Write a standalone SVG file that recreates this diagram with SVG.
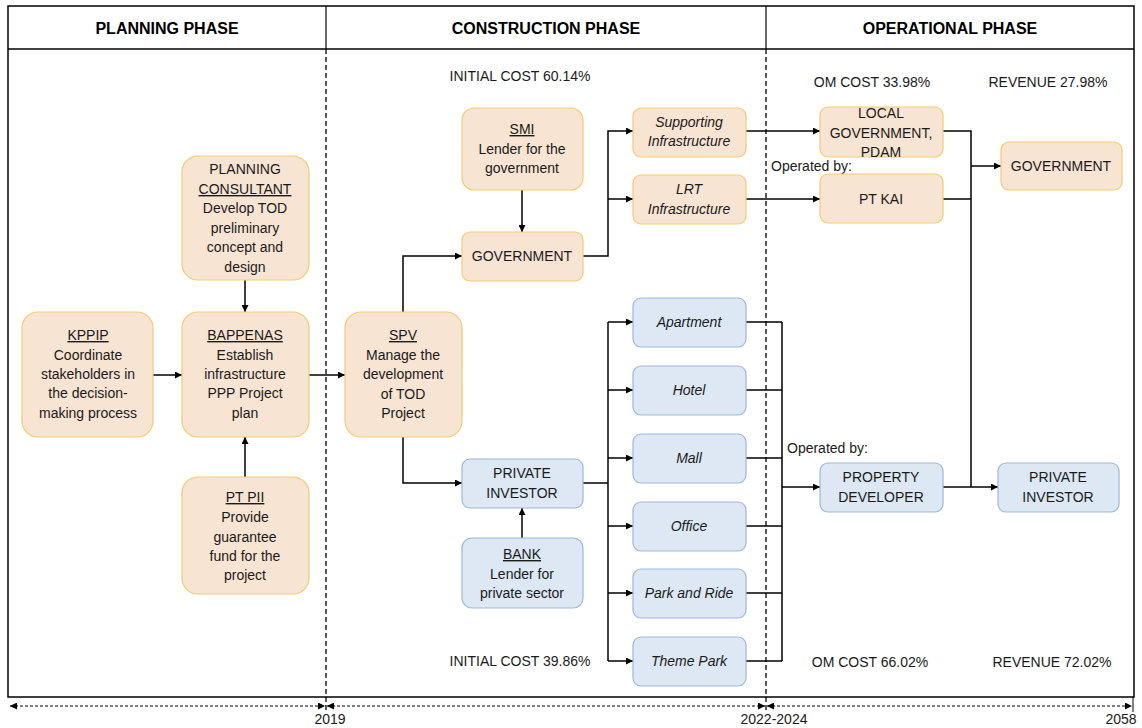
<svg xmlns="http://www.w3.org/2000/svg" width="1142" height="728" viewBox="0 0 1142 728">
<defs>
<marker id="ah" viewBox="0 0 10 10" refX="10" refY="5" markerWidth="7" markerHeight="7" markerUnits="userSpaceOnUse" orient="auto"><path d="M0,0 L10,5 L0,10 z" fill="#000"/></marker>
<marker id="ta" viewBox="0 0 10 10" refX="10" refY="5" markerWidth="7" markerHeight="7" markerUnits="userSpaceOnUse" orient="auto-start-reverse"><path d="M0,0 L10,5 L0,10 z" fill="#000"/></marker>
<style>
text{font-family:"Liberation Sans",Arial,sans-serif;font-size:14px;fill:#1a1a1a;text-anchor:middle}
.hd{font-weight:bold;font-size:16px;fill:#000}
.it{font-style:italic}
.u{text-decoration:underline}
.lb{text-anchor:start}
.or{fill:#F8E4D3;stroke:#F3CB72;stroke-width:1.2}
.bl{fill:#DDE8F4;stroke:#9DB8D8;stroke-width:1.2}
.ln{fill:none;stroke:#000;stroke-width:1.5}
.dv{fill:none;stroke:#000;stroke-width:1.3;stroke-dasharray:5,3}
.tl{fill:none;stroke:#000;stroke-width:1;stroke-dasharray:3,2}
</style>
</defs>
<rect x="0" y="0" width="1142" height="728" fill="#fff"/>
<g id="frame">
<rect x="8" y="6" width="1126" height="691" fill="none" stroke="#000" stroke-width="1.5"/>
<line x1="8" y1="49" x2="1134" y2="49" stroke="#000" stroke-width="1.5"/>
<line x1="326" y1="6" x2="326" y2="49" stroke="#000" stroke-width="1.2"/>
<line x1="766" y1="6" x2="766" y2="49" stroke="#000" stroke-width="1.2"/>
<line class="dv" x1="326" y1="49" x2="326" y2="712"/>
<line class="dv" x1="766" y1="49" x2="766" y2="712"/>
<text class="hd" x="167" y="34">PLANNING PHASE</text>
<text class="hd" x="546" y="34">CONSTRUCTION PHASE</text>
<text class="hd" x="950" y="34">OPERATIONAL PHASE</text>
</g>
<g id="timeline">
<line class="tl" x1="10" y1="706" x2="325" y2="706" marker-start="url(#ta)" marker-end="url(#ta)"/>
<line class="tl" x1="327" y1="706" x2="765" y2="706" marker-start="url(#ta)" marker-end="url(#ta)"/>
<line class="tl" x1="767" y1="706" x2="1132" y2="706" marker-start="url(#ta)" marker-end="url(#ta)"/>
<line x1="1133" y1="697" x2="1133" y2="712" stroke="#000" stroke-width="1"/>
<text x="330" y="724">2019</text>
<text x="774" y="724">2022-2024</text>
<text x="1121" y="724">2058</text>
</g>
<g id="labels">
<text x="520" y="81">INITIAL COST 60.14%</text>
<text x="872" y="87">OM COST 33.98%</text>
<text x="1048" y="87">REVENUE 27.98%</text>
<text x="520" y="666">INITIAL COST 39.86%</text>
<text x="870" y="667">OM COST 66.02%</text>
<text x="1052" y="667">REVENUE 72.02%</text>
<text class="lb" x="771" y="171">Operated by:</text>
<text class="lb" x="787" y="453">Operated by:</text>
</g>
<g id="connectors">
<path class="ln" d="M153,375 H182" marker-end="url(#ah)"/>
<path class="ln" d="M245,280 V312" marker-end="url(#ah)"/>
<path class="ln" d="M245,477 V437" marker-end="url(#ah)"/>
<path class="ln" d="M309,375 H345" marker-end="url(#ah)"/>
<path class="ln" d="M403,312 V256 H462" marker-end="url(#ah)"/>
<path class="ln" d="M403,437 V483 H462" marker-end="url(#ah)"/>
<path class="ln" d="M522,190 V232" marker-end="url(#ah)"/>
<path class="ln" d="M522,538 V508" marker-end="url(#ah)"/>
<path class="ln" d="M583,256 H608 V131 H633" marker-end="url(#ah)"/>
<path class="ln" d="M608,199 H633" marker-end="url(#ah)"/>
<path class="ln" d="M583,483 H608"/>
<path class="ln" d="M608,322 V661"/>
<path class="ln" d="M608,322 H633" marker-end="url(#ah)"/>
<path class="ln" d="M608,390 H633" marker-end="url(#ah)"/>
<path class="ln" d="M608,458 H633" marker-end="url(#ah)"/>
<path class="ln" d="M608,526 H633" marker-end="url(#ah)"/>
<path class="ln" d="M608,593 H633" marker-end="url(#ah)"/>
<path class="ln" d="M608,661 H633" marker-end="url(#ah)"/>
<path class="ln" d="M746,131 H820" marker-end="url(#ah)"/>
<path class="ln" d="M746,199 H820" marker-end="url(#ah)"/>
<path class="ln" d="M746,322 H782 M746,390 H782 M746,458 H782 M746,526 H782 M746,593 H782 M746,661 H782 M782,322 V661"/>
<path class="ln" d="M782,487 H820" marker-end="url(#ah)"/>
<path class="ln" d="M943,131 H971 V487 M943,199 H971"/>
<path class="ln" d="M971,166 H1001" marker-end="url(#ah)"/>
<path class="ln" d="M943,487 H998" marker-end="url(#ah)"/>
</g>
<g id="planning-consultant">
<rect class="or" x="182" y="156" width="127" height="124" rx="16"/>
<text x="245" y="174">PLANNING</text>
<text class="u" x="245" y="194">CONSULTANT</text>
<text x="245" y="213">Develop TOD</text>
<text x="245" y="233">preliminary</text>
<text x="245" y="252">concept and</text>
<text x="245" y="272">design</text>
</g>
<g id="kppip">
<rect class="or" x="22" y="312" width="131" height="125" rx="16"/>
<text class="u" x="88" y="340">KPPIP</text>
<text x="88" y="360">Coordinate</text>
<text x="88" y="379">stakeholders in</text>
<text x="88" y="398">the decision-</text>
<text x="88" y="418">making process</text>
</g>
<g id="bappenas">
<rect class="or" x="182" y="312" width="127" height="125" rx="16"/>
<text class="u" x="245" y="340">BAPPENAS</text>
<text x="245" y="360">Establish</text>
<text x="245" y="379">infrastructure</text>
<text x="245" y="398">PPP Project</text>
<text x="245" y="418">plan</text>
</g>
<g id="pt-pii">
<rect class="or" x="182" y="477" width="127" height="117" rx="16"/>
<text class="u" x="245" y="502">PT PII</text>
<text x="245" y="522">Provide</text>
<text x="245" y="542">guarantee</text>
<text x="245" y="561">fund for the</text>
<text x="245" y="580">project</text>
</g>
<g id="spv">
<rect class="or" x="345" y="312" width="117" height="125" rx="16"/>
<text class="u" x="403" y="340">SPV</text>
<text x="403" y="360">Manage the</text>
<text x="403" y="379">development</text>
<text x="403" y="399">of TOD</text>
<text x="403" y="418">Project</text>
</g>
<g id="smi">
<rect class="or" x="462" y="108" width="121" height="82" rx="12"/>
<text class="u" x="522" y="134">SMI</text>
<text x="522" y="154">Lender for the</text>
<text x="522" y="173">government</text>
</g>
<g id="government-c">
<rect class="or" x="462" y="232" width="121" height="49" rx="8"/>
<text x="522" y="261">GOVERNMENT</text>
</g>
<g id="supporting-infrastructure">
<rect class="or" x="633" y="108" width="113" height="49" rx="8"/>
<text class="it" x="689" y="127">Supporting</text>
<text class="it" x="689" y="146">Infrastructure</text>
</g>
<g id="lrt-infrastructure">
<rect class="or" x="633" y="175" width="113" height="49" rx="8"/>
<text class="it" x="689" y="194">LRT</text>
<text class="it" x="689" y="214">Infrastructure</text>
</g>
<g id="private-investor-c">
<rect class="bl" x="462" y="459" width="121" height="49" rx="8"/>
<text x="522" y="478">PRIVATE</text>
<text x="522" y="498">INVESTOR</text>
</g>
<g id="bank">
<rect class="bl" x="462" y="538" width="121" height="70" rx="10"/>
<text class="u" x="522" y="559">BANK</text>
<text x="522" y="579">Lender for</text>
<text x="522" y="598">private sector</text>
</g>
<g id="apartment"><rect class="bl" x="633" y="298" width="113" height="49" rx="8"/><text class="it" x="689" y="327">Apartment</text></g>
<g id="hotel"><rect class="bl" x="633" y="366" width="113" height="49" rx="8"/><text class="it" x="689" y="395">Hotel</text></g>
<g id="mall"><rect class="bl" x="633" y="434" width="113" height="49" rx="8"/><text class="it" x="689" y="463">Mall</text></g>
<g id="office"><rect class="bl" x="633" y="502" width="113" height="49" rx="8"/><text class="it" x="689" y="531">Office</text></g>
<g id="park-and-ride"><rect class="bl" x="633" y="569" width="113" height="49" rx="8"/><text class="it" x="689" y="598">Park and Ride</text></g>
<g id="theme-park"><rect class="bl" x="633" y="637" width="113" height="49" rx="8"/><text class="it" x="689" y="666">Theme Park</text></g>
<g id="local-government">
<rect class="or" x="820" y="107" width="123" height="50" rx="8"/>
<text x="881" y="118">LOCAL</text>
<text x="881" y="138">GOVERNMENT,</text>
<text x="881" y="157">PDAM</text>
</g>
<g id="pt-kai">
<rect class="or" x="820" y="174" width="123" height="49" rx="8"/>
<text x="881" y="204">PT KAI</text>
</g>
<g id="government-o">
<rect class="or" x="1001" y="142" width="121" height="48" rx="8"/>
<text x="1061" y="171">GOVERNMENT</text>
</g>
<g id="property-developer">
<rect class="bl" x="820" y="463" width="123" height="49" rx="8"/>
<text x="881" y="482">PROPERTY</text>
<text x="881" y="502">DEVELOPER</text>
</g>
<g id="private-investor-o">
<rect class="bl" x="998" y="463" width="121" height="49" rx="8"/>
<text x="1058" y="482">PRIVATE</text>
<text x="1058" y="502">INVESTOR</text>
</g>
</svg>
